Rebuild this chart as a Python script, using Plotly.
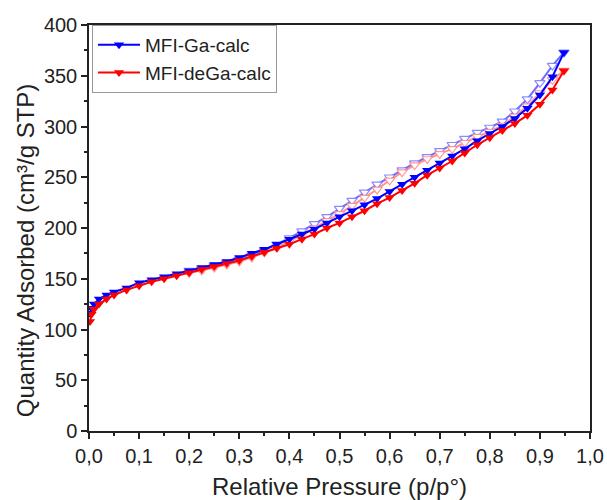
import plotly.graph_objects as go

# Adsorption branch (filled markers)
ads_x = [0.002, 0.005, 0.01, 0.02, 0.035, 0.05, 0.075, 0.1, 0.125, 0.15, 0.175, 0.2,
         0.225, 0.25, 0.275, 0.3, 0.325, 0.35, 0.375, 0.4, 0.425, 0.45, 0.475, 0.5,
         0.525, 0.55, 0.575, 0.6, 0.625, 0.65, 0.675, 0.7, 0.725, 0.75, 0.775, 0.8,
         0.825, 0.85, 0.875, 0.9, 0.925, 0.948]
ga_ads = [116, 121, 125, 130, 134, 137, 141, 146, 149, 152, 155, 158,
          161, 164, 167, 171, 175, 179, 184, 189, 194, 199, 205, 211,
          217, 223, 229, 236, 243, 250, 257, 264, 271, 278, 286, 293,
          300, 308, 318, 331, 349, 373]
dega_ads = [108, 115, 120, 125, 130, 134, 139, 143, 147, 150, 153, 156,
            159, 162, 165, 168, 172, 176, 180, 184, 189, 194, 200, 205,
            211, 217, 224, 230, 237, 244, 252, 259, 266, 274, 282, 289,
            296, 303, 311, 322, 336, 355]

# Desorption branch (open markers)
des_x = [0.948, 0.925, 0.9, 0.875, 0.85, 0.825, 0.8, 0.775, 0.75, 0.725, 0.7, 0.675,
         0.65, 0.625, 0.6, 0.575, 0.55, 0.525, 0.5, 0.475, 0.45, 0.425, 0.4, 0.375,
         0.35, 0.325, 0.3, 0.275, 0.25, 0.225, 0.2]
ga_des = [373, 360, 343, 327, 315, 305, 299, 294, 288, 282, 276, 270,
          264, 257, 250, 243, 235, 227, 219, 211, 204, 197, 190, 184,
          178, 173, 169, 166, 163, 160, 158]
dega_des = [355, 346, 333, 320, 310, 301, 295, 290, 284, 278, 273, 268,
            262, 255, 247, 238, 230, 222, 214, 207, 200, 193, 187, 181,
            176, 171, 167, 164, 161, 158, 156]

x_ticks = [0, 0.1, 0.2, 0.3, 0.4, 0.5, 0.6, 0.7, 0.8, 0.9, 1.0]
y_ticks = [0, 50, 100, 150, 200, 250, 300, 350, 400]

fig = go.Figure()

fig.add_trace(go.Scatter(x=des_x, y=ga_des, mode="lines+markers", showlegend=False,
                         line=dict(color="rgba(60,60,255,0.75)", width=2),
                         marker=dict(symbol="triangle-down", size=9, color="white",
                                     line=dict(color="rgba(110,110,255,0.8)", width=1.2))))
fig.add_trace(go.Scatter(x=des_x, y=dega_des, mode="lines+markers", showlegend=False,
                         line=dict(color="rgba(255,110,110,0.75)", width=2),
                         marker=dict(symbol="triangle-down", size=9, color="white",
                                     line=dict(color="rgba(255,130,130,0.8)", width=1.2))))
fig.add_trace(go.Scatter(x=ads_x, y=ga_ads, mode="lines+markers", name="MFI-Ga-calc",
                         line=dict(color="#0000ff", width=2),
                         marker=dict(symbol="triangle-down", size=9, color="#0000ff")))
fig.add_trace(go.Scatter(x=ads_x, y=dega_ads, mode="lines+markers", name="MFI-deGa-calc",
                         line=dict(color="#ff0000", width=2),
                         marker=dict(symbol="triangle-down", size=9, color="#ff0000")))

axis_common = dict(showline=True, linecolor="#222222", linewidth=1.5, mirror=True,
                   ticks="outside", ticklen=6, tickwidth=1.5, tickcolor="#222222",
                   showgrid=False, zeroline=False, automargin=False,
                   tickfont=dict(family="Liberation Sans, Arial", size=20, color="#222222"))

fig.update_layout(
    width=607, height=500,
    margin=dict(l=89, r=17, t=25, b=69),
    paper_bgcolor="white", plot_bgcolor="white",
    separators=", ",
    font=dict(family="Liberation Sans, Arial", color="#222222"),
    legend=dict(x=0.006, y=1.0, xanchor="left", yanchor="top",
                bgcolor="white", bordercolor="#999999", borderwidth=1,
                font=dict(size=19, color="#222222"), tracegroupgap=0,
                itemwidth=42),
    xaxis=dict(range=[0, 1], tickvals=x_ticks, tickformat=".1f",
               title=dict(text="Relative Pressure (p/p°)", font=dict(size=24)),
               minor=dict(ticks="outside", dtick=0.05, ticklen=3, tickwidth=1.5,
                          tickcolor="#222222"),
               **axis_common),
    yaxis=dict(range=[0, 400], tickvals=y_ticks,
               minor=dict(ticks="outside", dtick=25, ticklen=3, tickwidth=1.5,
                          tickcolor="#222222"),
               **axis_common),
    annotations=[dict(text="Quantity Adsorbed (cm³/g STP)", textangle=-90,
                      xref="paper", yref="paper", x=0, y=0.443,
                      xanchor="center", yanchor="middle", xshift=-64,
                      showarrow=False, font=dict(size=24, color="#222222"))],
)

fig.write_html("out.html")
